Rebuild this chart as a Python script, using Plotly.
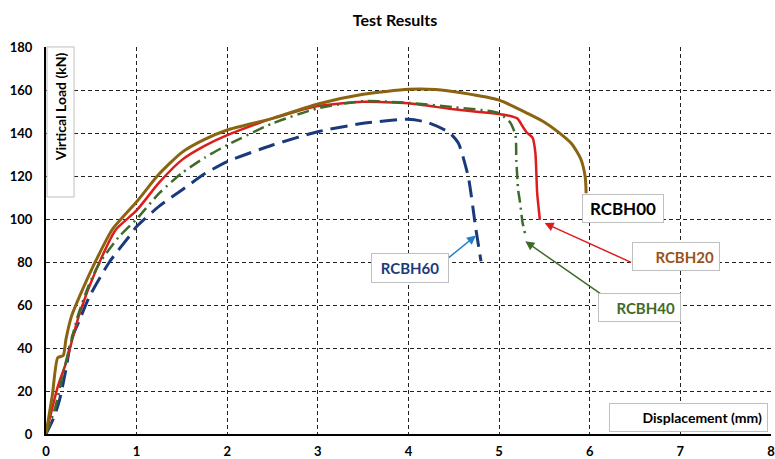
import plotly.graph_objects as go

# ---- data ----
rcbh00_x = [0, 0.07, 0.13, 0.19, 0.22, 0.28, 0.37, 0.52, 0.73, 1.0, 1.25, 1.5, 1.75, 2.0, 2.5, 3.0, 3.5, 4.0, 4.3, 4.6, 5.0, 5.32, 5.5, 5.65, 5.8, 5.9, 5.95, 5.96]
rcbh00_y = [0, 18, 35.5, 36.5, 44, 54.6, 64, 78, 95, 108, 121, 131, 137, 141.4, 146.8, 153.5, 158, 160.3, 160.2, 158.6, 155.3, 149, 145, 140.5, 135, 128, 119.5, 112]

rcbh20_x = [0, 0.13, 0.22, 0.28, 0.37, 0.55, 0.77, 1.0, 1.25, 1.5, 1.75, 2.0, 2.5, 3.0, 3.5, 4.0, 4.5, 5.07, 5.2, 5.26, 5.3, 5.37, 5.4, 5.42, 5.45]
rcbh20_y = [0, 22, 33, 42.4, 56, 76, 95, 104, 117, 127.5, 134, 139, 146.8, 152.5, 154.5, 153.8, 151, 148.4, 146.8, 143, 140.5, 137.7, 130.7, 112, 99.6]

rcbh40_x = [0, 0.1, 0.19, 0.27, 0.35, 0.47, 0.59, 0.81, 1.0, 1.25, 1.5, 1.75, 2.0, 2.5, 3.0, 3.5, 4.0, 4.5, 4.99, 5.12, 5.18, 5.19, 5.21, 5.23, 5.26, 5.29]
rcbh40_y = [0, 12, 28.5, 42, 54.7, 69, 79.5, 92, 100, 112, 121.4, 128.5, 134.4, 144.5, 151.5, 154.8, 154, 152, 149.3, 145, 139, 127.4, 113.5, 108, 98, 92.6]

rcbh60_x = [0, 0.09, 0.15, 0.22, 0.28, 0.37, 0.48, 0.70, 0.92, 1.0, 1.25, 1.5, 1.75, 2.0, 2.5, 3.0, 3.5, 4.0, 4.2, 4.44, 4.55, 4.66, 4.74, 4.80]
rcbh60_y = [0, 8, 16, 30, 44, 53, 64, 80, 92, 96.5, 106, 113.5, 121, 126.7, 134.4, 140.6, 144.5, 146.4, 145, 140.5, 135.3, 119.5, 96.3, 80.3]

x_ticks = [0, 1, 2, 3, 4, 5, 6, 7, 8]
y_ticks = [0, 20, 40, 60, 80, 100, 120, 140, 160, 180]

FONT = "Lato"
BROWN = "#8a6410"
RED = "#dd1c1c"
GREEN = "#3f6a2a"
NAVY = "#1b3a7c"

L_MARGIN, R_MARGIN = 46, 4
PLOT_W = 775 - L_MARGIN - R_MARGIN

fig = go.Figure()
fig.add_trace(go.Scatter(x=rcbh60_x, y=rcbh60_y, mode="lines", name="RCBH60",
                         line=dict(color=NAVY, width=3, dash="17px,8px", shape="spline", smoothing=0.6)))
fig.add_trace(go.Scatter(x=rcbh20_x, y=rcbh20_y, mode="lines", name="RCBH20",
                         line=dict(color=RED, width=2.5, shape="spline", smoothing=0.6)))
fig.add_trace(go.Scatter(x=rcbh40_x, y=rcbh40_y, mode="lines", name="RCBH40",
                         line=dict(color=GREEN, width=2.5, dash="12px,5px,2px,5px", shape="spline", smoothing=0.6)))
fig.add_trace(go.Scatter(x=rcbh00_x, y=rcbh00_y, mode="lines", name="RCBH00",
                         line=dict(color=BROWN, width=3, shape="spline", smoothing=0.6)))

grid = dict(showgrid=True, gridcolor="#222222", gridwidth=1, griddash="4px,3px",
            zeroline=False, showline=True, linecolor="black", linewidth=2,
            ticks="", automargin=False, ticklabeloverflow="allow",
            tickfont=dict(family=FONT, size=13, color="black", weight="bold"))

fig.update_xaxes(range=[0, 8], tickvals=x_ticks, ticklabelstandoff=4, **grid)
fig.update_yaxes(range=[0, 180], tickvals=y_ticks, ticklabelstandoff=9, **grid)

BOX = "#bfbfbf"
ann = []
# axis title boxes
ann.append(dict(text="Virtical Load (kN)", xref="paper", yref="paper", x=(61 - L_MARGIN) / PLOT_W, y=0.805,
                xanchor="center", yanchor="middle", textangle=-90, showarrow=False,
                width=139, height=16, align="right", borderpad=5, borderwidth=1,
                bordercolor=BOX, bgcolor="white",
                font=dict(family=FONT, size=14, color="black", weight="bold")))
ann.append(dict(text="Displacement (mm)", xref="paper", yref="paper", x=(688.7 - L_MARGIN) / PLOT_W, y=0.0426,
                xanchor="center", yanchor="middle", showarrow=False,
                width=147, height=17, align="right", borderpad=5, borderwidth=1,
                bordercolor=BOX, bgcolor="white",
                font=dict(family=FONT, size=14, color="black", weight="bold")))
# arrows (tail -> head in data coords)
for hx, hy, tx, ty, col in [(4.744, 92.3, 4.414, 81.0, "#1f7fd0"),
                            (5.502, 98.1, 6.473, 79.5, RED),
                            (5.289, 89.6, 6.162, 64.0, GREEN)]:
    ann.append(dict(x=hx, y=hy, ax=tx, ay=ty, xref="x", yref="y", axref="x", ayref="y",
                    text="", showarrow=True, arrowhead=2, arrowsize=1.2, arrowwidth=1.5,
                    arrowcolor=col, standoff=0, startstandoff=0))
# series labels
ann.append(dict(text="RCBH00", x=6.368, y=104.8, xref="x", yref="y", showarrow=False,
                width=76, height=23, align="center", borderpad=2, borderwidth=1,
                bordercolor=BOX, bgcolor="white",
                font=dict(family=FONT, size=17, color="black", weight="bold")))
ann.append(dict(text="RCBH20", x=6.955, y=82.4, xref="x", yref="y", showarrow=False,
                width=76, height=17, align="right", borderpad=5, borderwidth=1,
                bordercolor=BOX, bgcolor="white",
                font=dict(family=FONT, size=15, color="#9a521c", weight="bold")))
ann.append(dict(text="RCBH40", x=6.546, y=58.8, xref="x", yref="y", showarrow=False,
                width=71, height=17, align="right", borderpad=5, borderwidth=1,
                bordercolor=BOX, bgcolor="white",
                font=dict(family=FONT, size=15, color=GREEN, weight="bold")))
ann.append(dict(text="RCBH60", x=4.019, y=77.2, xref="x", yref="y", showarrow=False,
                width=72, height=24, align="center", borderpad=2, borderwidth=1,
                bordercolor=BOX, bgcolor="white",
                font=dict(family=FONT, size=15, color=NAVY, weight="bold")))

fig.update_layout(
    width=775, height=459,
    margin=dict(l=L_MARGIN, r=R_MARGIN, t=47, b=25),
    paper_bgcolor="white", plot_bgcolor="white",
    showlegend=False,
    title=dict(text="Test Results", x=(395 - L_MARGIN) / PLOT_W, xref="paper", y=1 - 20.5 / 459, yref="container",
               xanchor="center", yanchor="middle",
               font=dict(family=FONT, size=16, color="black", weight="bold")),
    annotations=ann,
)

fig.write_html("out.html")
